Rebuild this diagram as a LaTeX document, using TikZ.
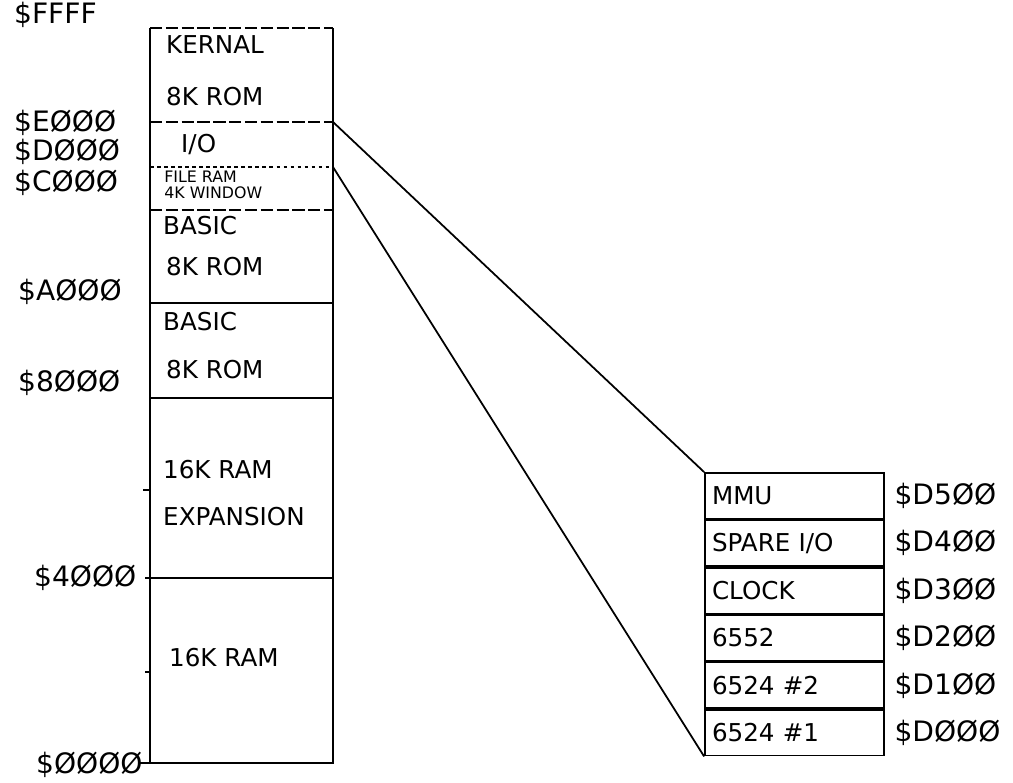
\documentclass[tikz,border=0pt]{standalone}
\usepackage{fontspec}
\setmainfont{DejaVu Sans}
\usetikzlibrary{positioning}
\tikzset{
  indirizzo/.style={anchor=west,font=\fontsize{16}{18}\selectfont},
  voce/.style={anchor=west,font=\fontsize{14}{16}\selectfont},
  vocepiccola/.style={anchor=west,font=\fontsize{9}{9}\selectfont,inner sep=0pt},
  casella/.style={draw,line width=1pt,minimum width=3.58cm,minimum height=0.913cm,
    text width=3.3cm,align=left,font=\fontsize{14}{16}\selectfont},
  linea/.style={line width=1pt},
  tratteggio/.style={line width=1pt,dash pattern=on 7pt off 2pt},
  puntini/.style={line width=1pt,dash pattern=on 2pt off 2pt},
  raccordo/.style={line width=1pt}
}

\begin{document}
\begin{tikzpicture}[x=0.02cm,y=-0.02cm]
\useasboundingbox (0,0) rectangle (1013,783);

% colonna della mappa di memoria
\draw[linea] (150,28) -- (150,763) -- (333,763) -- (333,28);
\draw[tratteggio] (150,28) -- (333,28);
\draw[tratteggio] (150,122) -- (333,122);
\draw[puntini] (150,167) -- (333,167);
\draw[tratteggio] (150,210) -- (333,210);
\draw[linea] (150,303) -- (333,303);
\draw[linea] (150,398) -- (333,398);
\draw[linea] (145,578) -- (333,578);

% tacche a sinistra
\draw[linea] (143,490) -- (150,490);
\draw[linea] (145,672) -- (150,672);
\draw[linea] (140,763) -- (150,763);

% indirizzi della colonna
\foreach \t/\x/\y [count=\i] in {
  \$FFFF/8/15, \$EØØØ/8/123, \$DØØØ/8/152, \$CØØØ/8/183,
  \$AØØØ/12/292, \$8ØØØ/12/383, \$4ØØØ/28/578, \$ØØØØ/30/765
}{
  \node[indirizzo] (ind\i) at (\x,\y) {\t};
}

% contenuto delle zone
\node[voce] (kernal) at (160,45) {KERNAL};
\node[voce] (kernalrom) at (160,97) {8K ROM};
\node[voce] (io) at (175,145) {I/O};
\node[vocepiccola] (fileram) at (164,177) {FILE RAM};
\node[vocepiccola] (finestra) at (164,193) {4K WINDOW};
\node[voce] (basicalta) at (157,226) {BASIC};
\node[voce] (basicaltarom) at (160,267) {8K ROM};
\node[voce] (basicbassa) at (157,322) {BASIC};
\node[voce] (basicbassarom) at (160,370) {8K ROM};
\node[voce] (espansione) at (157,470) {16K RAM};
\node[voce] (espansione2) at (157,517) {EXPANSION};
\node[voce] (rambassa) at (163,658) {16K RAM};

% punti di partenza dei raccordi
\coordinate (inizioIO) at (333,122);
\coordinate (fineIO) at (333,167);

% dettaglio della zona I/O
\node[casella] (mmu) at (794.5,495.8) {MMU};
\node[casella, below=0pt of mmu] (spare) {SPARE I/O};
\node[casella, below=0pt of spare] (clock) {CLOCK};
\node[casella, below=0pt of clock] (acia) {6552};
\node[casella, below=0pt of acia] (cia2) {6524 \#2};
\node[casella, below=0pt of cia2] (cia1) {6524 \#1};

% indirizzi del dettaglio
\node[indirizzo, right=2pt of mmu] (dmmu) {\$D5ØØ};
\node[indirizzo, right=2pt of spare] (dspare) {\$D4ØØ};
\node[indirizzo, right=2pt of clock] (dclock) {\$D3ØØ};
\node[indirizzo, right=2pt of acia] (dacia) {\$D2ØØ};
\node[indirizzo, right=2pt of cia2] (dcia2) {\$D1ØØ};
\node[indirizzo, right=2pt of cia1] (dcia1) {\$DØØØ};

% raccordi
\draw[raccordo] (inizioIO) -- (mmu.north west);
\draw[raccordo] (fineIO) -- (cia1.south west);

\end{tikzpicture}
\end{document}
